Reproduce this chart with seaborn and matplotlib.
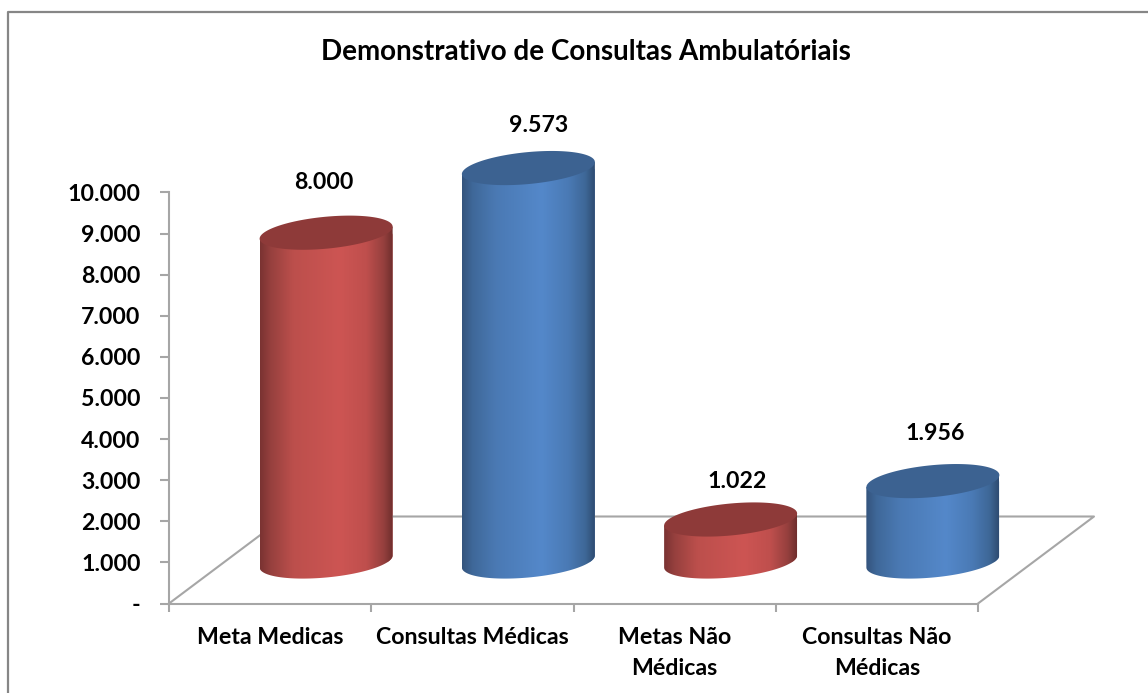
#cylinder style bar chart of ambulatory consultations

import numpy as np
import pandas as pd
import matplotlib
matplotlib.use('Agg')
import matplotlib.pyplot as plt
import seaborn as sns
from matplotlib.colors import LinearSegmentedColormap
from matplotlib.lines import Line2D
from matplotlib.patches import Polygon

categorias = ['Meta Medicas', 'Consultas Médicas', 'Metas Não\nMédicas', 'Consultas Não\nMédicas']
valores = [8000, 9573, 1022, 1956]
grupos = ['vermelho', 'azul', 'vermelho', 'azul']
yticks = [0, 1000, 2000, 3000, 4000, 5000, 6000, 7000, 8000, 9000, 10000]

W, H = 1148, 693
AX_L, AX_R, AX_T, AX_B = 169, 978, 192.5, 603.5
px_x = 4 / (AX_R - AX_L)        #one pixel in category units
px_y = 10000 / (AX_B - AX_T)    #one pixel in value units

sns.set_theme(style='white')
plt.rcParams['font.family'] = ['Lato', 'DejaVu Sans']
plt.rcParams['font.weight'] = 'bold'
FS = 16.7
CINZA = '#A6A6A6'

#body colour, top colour, and gradient stops
cores = {
    'vermelho': ('#C0504D', '#8E3A39', ['#7A3332', '#96403E', '#BC4F4C', '#CD5553', '#BF4F4D', '#96403E', '#6F2E2D']),
    'azul': ('#4F81BD', '#3C6291', ['#34547D', '#3F6899', '#4A79B3', '#5488CA', '#4A7AB5', '#3E6797', '#2E4C72']),
}
paradas = [0, 0.08, 0.25, 0.6, 0.8, 0.93, 1]

fig = plt.figure(figsize=(W / 100, H / 100), dpi=100)
ax = fig.add_axes([AX_L / W, 1 - AX_B / H, (AX_R - AX_L) / W, (AX_B - AX_T) / H])

df = pd.DataFrame({'categoria': categorias, 'valor': valores, 'grupo': grupos})
sns.barplot(data=df, x='categoria', y='valor', hue='grupo', dodge=False, legend=False,
            palette={k: v[0] for k, v in cores.items()}, saturation=1, width=133 * px_x, ax=ax)

ax.set_xlim(-0.5, 3.5)
ax.set_ylim(0, 10000)
ax.set_xlabel('')
ax.set_ylabel('')

#3D look: bars stand on the floor, moved back from the axis
shift = 56 * px_x
lift = 42 * px_y
meia_altura = 16 * px_y
incl = 6 * px_y

t = np.linspace(0, 2 * np.pi, 200)
t_baixo = np.linspace(np.pi, 2 * np.pi, 100)
fundo = np.linspace(0, 1, 256).reshape(1, -1)

barras = sorted([p for p in ax.patches if p.get_height() > 0], key=lambda p: p.get_x())
for bar, grupo in zip(barras, grupos):
    bar.set_x(bar.get_x() + shift)
    bar.set_y(lift)
    x0 = bar.get_x()
    w = bar.get_width()
    cx = x0 + w / 2
    topo = lift + bar.get_height()

    xs = cx + w / 2 * np.cos(t_baixo)
    ys = lift + incl * np.cos(t_baixo) + meia_altura * np.sin(t_baixo)
    pts = np.column_stack([xs, ys])
    pts = np.vstack([pts, [x0 + w, topo + incl], [x0, topo - incl]])

    corpo = Polygon(pts, closed=True, transform=ax.transData, facecolor='none', edgecolor='none')
    ax.add_patch(corpo)
    corpo.set_clip_on(False)
    bar.set_clip_box(fig.bbox)
    bar.set_clip_path(corpo)

    cmap = LinearSegmentedColormap.from_list(grupo, list(zip(paradas, cores[grupo][2])))
    im = ax.imshow(fundo, cmap=cmap, aspect='auto', extent=(x0, x0 + w, lift - 2 * meia_altura, topo + 2 * incl), zorder=3)
    im.set_clip_box(fig.bbox)
    im.set_clip_path(corpo)

    tampa = np.column_stack([cx + w / 2 * np.cos(t), topo + incl * np.cos(t) + meia_altura * np.sin(t)])
    ax.add_patch(Polygon(tampa, closed=True, facecolor=cores[grupo][1], edgecolor='none', zorder=4, clip_on=False))

ax.set_xlim(-0.5, 3.5)
ax.set_ylim(0, 10000)

#floor
prof_x = 116 * px_x
prof_y = 87 * px_y
ax.plot([-0.5, -0.5 + prof_x, 3.5 + prof_x, 3.5], [0, prof_y, prof_y, 0],
        color=CINZA, lw=1.5, clip_on=False, zorder=1)

#value labels, moved by hand the way they sit in the chart
rot_dx = [-2, 10, 7, 2]
rot_dy = [50, 42.5, 38, 48]
for bar, v, dx, dy in zip(barras, valores, rot_dx, rot_dy):
    ax.annotate(f'{v:,}'.replace(',', '.'), (bar.get_x() + bar.get_width() / 2, lift + v),
                xytext=(dx * 0.72, dy * 0.72), textcoords='offset points', ha='center', va='center',
                fontsize=FS, fontweight='bold', color='black', annotation_clip=False)

ax.set_yticks(yticks)
ax.set_yticklabels([f'{v:,}'.replace(',', '.') if v else '-' for v in yticks], fontsize=FS, fontweight='bold', color='black')
ax.set_xticks(range(len(categorias)))
ax.set_xticklabels(categorias, fontsize=FS, fontweight='bold', color='black', linespacing=1.56)
ax.set_xticks(np.arange(-0.5, 4, 1), minor=True)
ax.tick_params(axis='x', which='major', length=0, pad=17)
ax.tick_params(axis='x', which='minor', length=6, width=1.5, color=CINZA, bottom=True)
ax.tick_params(axis='y', which='major', length=6.5, width=1.5, color=CINZA, left=True, pad=14)

sns.despine(ax=ax)
for lado in ['left', 'bottom']:
    ax.spines[lado].set_color(CINZA)
    ax.spines[lado].set_linewidth(1.5)

fig.text(585.5 / W, 1 - 52 / H, 'Demonstrativo de Consultas Ambulatóriais', ha='center', va='center',
         fontsize=20, fontweight='bold', color='black')

#chart frame, cut by the crop on the right and the bottom
fig.add_artist(Line2D([8 / W, 8 / W, 1], [0, 1 - 12 / H, 1 - 12 / H], color='#868686', lw=1.6,
                      transform=fig.transFigure))

plt.savefig('out.png', dpi=100, facecolor='white')
